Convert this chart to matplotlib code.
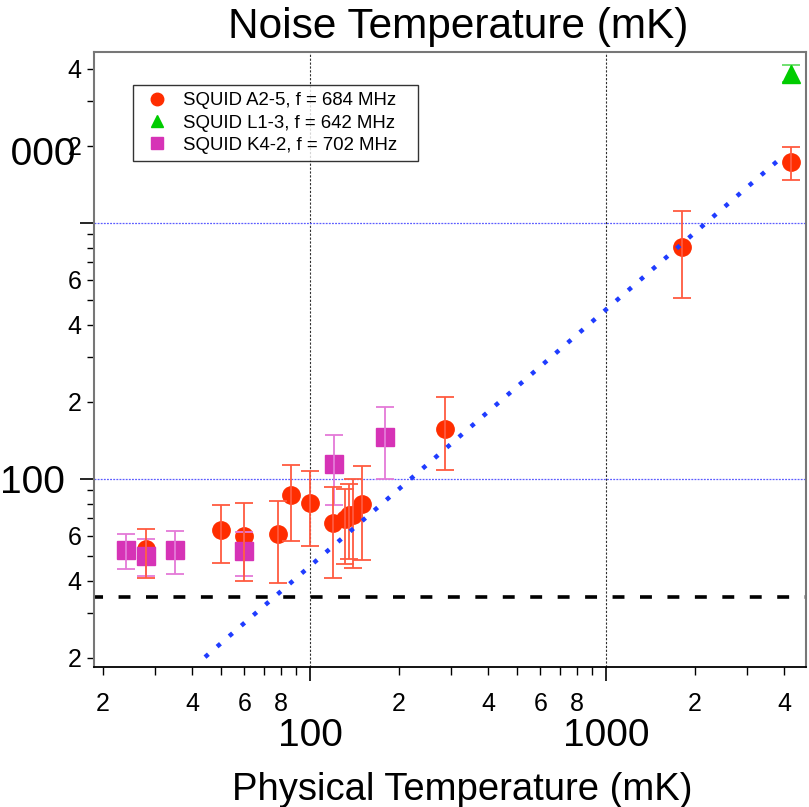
import matplotlib
matplotlib.use("Agg")
import matplotlib.pyplot as plt
from matplotlib.ticker import FixedLocator, FuncFormatter
from matplotlib.transforms import Bbox
import numpy as np

plt.rcParams['font.family'] = ['Liberation Sans', 'DejaVu Sans']

# ---------------- data (mK) ----------------
a25_x  = [28, 50, 60, 78, 86, 100, 120, 131, 135, 140, 150, 285, 1800, 4220]
a25_y  = [53, 63.3, 60, 61, 86, 80.4, 67.3, 69.7, 72.4, 72.4, 80, 157, 807, 1727]
a25_hi = [63.5, 79, 80.4, 81.6, 113, 107, 92.5, 91, 95, 100, 112, 209, 1111, 1977]
a25_lo = [41, 46.7, 39.8, 39.3, 57, 54.5, 41, 46.6, 48.4, 44.6, 48, 108, 507, 1473]

l13_x  = [4220]
l13_y  = [3812]
l13_hi = [4122]
l13_lo = [3548]

k42_x  = [23.9, 28, 35.1, 60, 120.6, 179.5]
k42_y  = [52.6, 49.9, 52.6, 52.1, 114, 146]
k42_hi = [60.7, 57.9, 62.4, 61.8, 148, 190]
k42_lo = [44.4, 41.7, 42.3, 41.7, 79, 100]

trend_x = [44.2, 3900]
trend_y = [20.1, 1790]

quantum_limit = 34.5

labels = ["SQUID A2-5, f = 684 MHz", "SQUID L1-3, f = 642 MHz", "SQUID K4-2, f = 702 MHz"]
major_ticks = [100, 1000]
x_minor = [20, 30, 40, 50, 60, 70, 80, 90, 200, 300, 400, 500, 600, 700, 800, 900, 2000, 3000, 4000]
y_minor = [20, 30, 40, 50, 60, 70, 80, 90, 200, 300, 400, 500, 600, 700, 800, 900, 2000, 3000, 4000]
x_minor_labeled = {20: "2", 40: "4", 60: "6", 80: "8", 200: "2", 400: "4", 600: "6", 800: "8",
                   2000: "2", 4000: "4"}
y_minor_labeled = {20: "2", 40: "4", 60: "6", 200: "2", 400: "4", 600: "6", 2000: "2", 4000: "4"}

# ---------------- figure ----------------
W, H = 809, 807
fig = plt.figure(figsize=(W / 100, H / 100), dpi=100)
L, R, T, B = 94, 806, 52, 667
ax = fig.add_axes([L / W, 1 - B / H, (R - L) / W, (B - T) / H])
ax.set_xscale('log')
ax.set_yscale('log')
ax.set_xlim(18.64, 4740)
ax.set_ylim(18.39, 4643)

red = '#ff2d00'
red_err = '#ff5a40'
green = '#00cc00'
mag = '#d633b6'
mag_err = '#e47ad8'

def err(y, lo, hi):
    y = np.asarray(y); return [y - np.asarray(lo), np.asarray(hi) - y]

# reference lines
for xv in major_ticks:
    ax.axvline(xv, color='#303030', lw=0.8, ls=(0, (2, 1.5)), zorder=1)
for yv in major_ticks:
    ax.axhline(yv, color='#5c5cff', lw=0.9, ls=(0, (1.5, 1.0)), zorder=1)

ax.axhline(quantum_limit, color='black', lw=2.6, ls=(0.8, (3.3, 4.3)), zorder=2)

# series
ax.plot(a25_x, a25_y, 'o', color=red, ms=12.5, mec=red, zorder=3, label=labels[0])
ax.errorbar(a25_x, a25_y, yerr=err(a25_y, a25_lo, a25_hi), fmt='none', ecolor=red_err,
            elinewidth=1.3, capsize=6.5, capthick=1.3, zorder=5)
ax.errorbar(l13_x, l13_y, yerr=err(l13_y, l13_lo, l13_hi), fmt='none', ecolor='#66dd66',
            elinewidth=1.3, capsize=6.5, capthick=1.3, zorder=3)
ax.plot(l13_x, l13_y, '^', color=green, ms=12.5, mec=green, zorder=4, label=labels[1])
ax.plot(k42_x, k42_y, 's', color=mag, ms=12.5, mec=mag, zorder=4, label=labels[2])
ax.errorbar(k42_x, k42_y, yerr=err(k42_y, k42_lo, k42_hi), fmt='none', ecolor=mag_err,
            elinewidth=1.3, capsize=6.5, capthick=1.3, zorder=4.5)

ax.plot(trend_x, trend_y, color='#1f3cff', lw=3.2, ls=(0, (1, 2.6)), zorder=6)

# spines
for s in ['left', 'top', 'right']:
    ax.spines[s].set_color('#777777')
    ax.spines[s].set_linewidth(1.5)
ax.spines['bottom'].set_color('black')
ax.spines['bottom'].set_linewidth(1.3)

# ticks
ax.xaxis.set_major_locator(FixedLocator(major_ticks))
ax.yaxis.set_major_locator(FixedLocator(major_ticks))
ax.xaxis.set_minor_locator(FixedLocator(x_minor))
ax.yaxis.set_minor_locator(FixedLocator(y_minor))
ax.xaxis.set_major_formatter(FuncFormatter(lambda v, p: "%d" % round(v)))
ax.yaxis.set_major_formatter(FuncFormatter(lambda v, p: "100" if round(v) == 100 else ""))
ax.xaxis.set_minor_formatter(FuncFormatter(lambda v, p: x_minor_labeled.get(int(round(v)), "")))
ax.yaxis.set_minor_formatter(FuncFormatter(lambda v, p: y_minor_labeled.get(int(round(v)), "")))

ax.tick_params(axis='x', which='major', direction='out', length=10, width=1.2, color='black',
               labelsize=28, pad=27)
ax.tick_params(axis='x', which='minor', direction='out', length=6, width=1.0, color='black',
               labelsize=18, pad=12)
ax.tick_params(axis='y', which='major', direction='out', length=10, width=1.2, color='black',
               labelsize=28, pad=11)
ax.tick_params(axis='y', which='minor', direction='out', length=5, width=1.0, color='black',
               labelsize=18, pad=4)

# partially clipped "1000" label on the left edge (leading digit hidden, as in the reference)
t1000 = fig.text(76 / W, 1 - 165 / H, "1000", ha='right', va='baseline', fontsize=28)
t1000.set_clip_box(Bbox.from_extents(10, 0, W, H))
t1000.set_clip_on(True)

# titles
fig.text(458 / W, 1 - 38 / H, "Noise Temperature (mK)", ha='center', va='baseline', fontsize=30.5)
fig.text(462 / W, 1 - 800 / H, "Physical Temperature (mK)", ha='center', va='baseline', fontsize=27.5)

# legend
leg = ax.legend(loc='upper left', bbox_to_anchor=(0.0548, 0.9463 - 0.127, 0.400, 0.127),
                mode='expand', borderaxespad=0, frameon=True, fancybox=False,
                edgecolor='black', fontsize=13.4, markerscale=0.72, handlelength=1.8,
                handletextpad=0.5, borderpad=0.4, labelspacing=0.28, numpoints=1)
leg.get_frame().set_linewidth(1.0)
leg.set_zorder(10)

fig.savefig("out.png", dpi=100)
